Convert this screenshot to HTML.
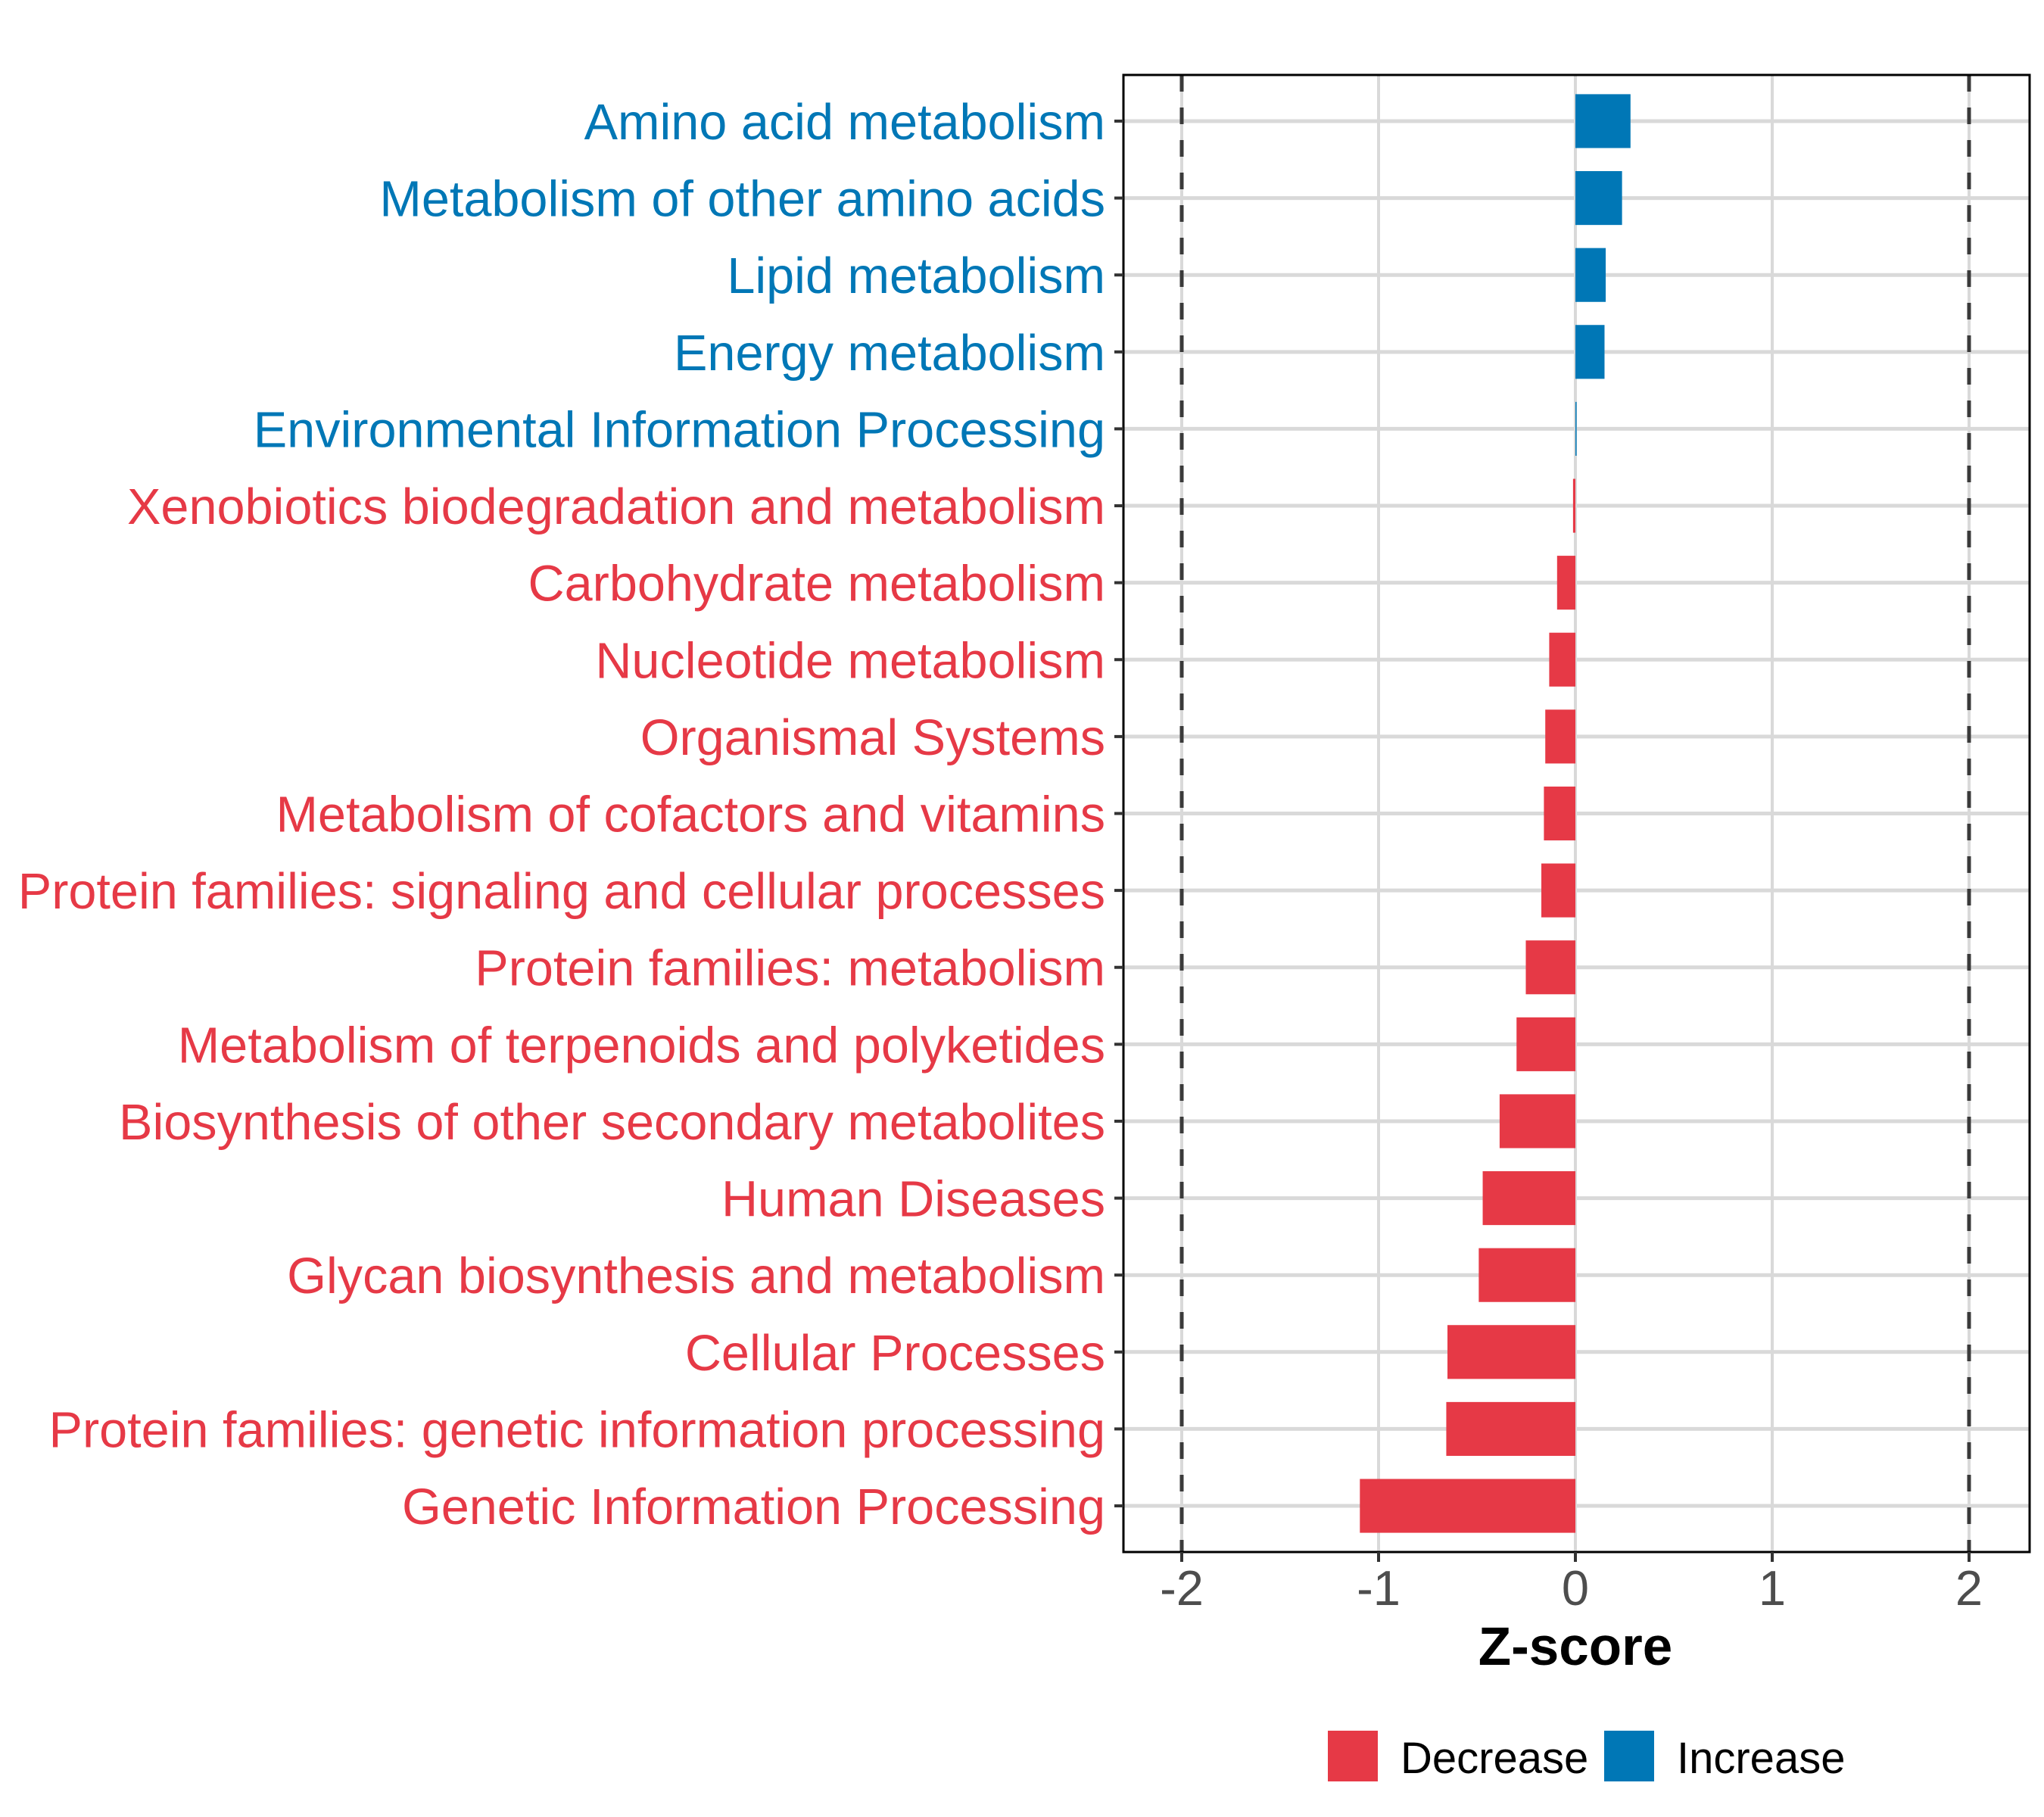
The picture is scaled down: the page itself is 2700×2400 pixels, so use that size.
<!DOCTYPE html>
<html><head><meta charset="utf-8"><style>
html,body{margin:0;padding:0;background:#fff;}
svg{display:block;font-family:"Liberation Sans",Arial,sans-serif;}
</style></head><body>
<svg id="chart" width="2700" height="2400" viewBox="0 0 2700 2400">
<rect x="0" y="0" width="2700" height="2400" fill="#fff"/>
<g id="grid"></g>
<g id="bars"></g>
<g id="ref"></g>
<rect x="1484" y="99" width="1197" height="1951" fill="none" stroke="#000" stroke-width="3"/>
<g id="yaxis"></g>
<g id="xaxis"></g>
<text x="2081" y="2199" text-anchor="middle" font-size="71" font-weight="bold" fill="#000">Z-score</text>
<g>
<rect x="1754" y="2286" width="66" height="67" fill="#E63946"/>
<text x="1850" y="2342" font-size="58" fill="#000">Decrease</text>
<rect x="2119" y="2286" width="66" height="67" fill="#0077B6"/>
<text x="2215" y="2342" font-size="58" fill="#000">Increase</text>
</g>
</svg>
<script>
const categories = ["Amino acid metabolism","Metabolism of other amino acids","Lipid metabolism","Energy metabolism","Environmental Information Processing","Xenobiotics biodegradation and metabolism","Carbohydrate metabolism","Nucleotide metabolism","Organismal Systems","Metabolism of cofactors and vitamins","Protein families: signaling and cellular processes","Protein families: metabolism","Metabolism of terpenoids and polyketides","Biosynthesis of other secondary metabolites","Human Diseases","Glycan biosynthesis and metabolism","Cellular Processes","Protein families: genetic information processing","Genetic Information Processing"];
const zscores = [0.28,0.237,0.154,0.148,0.006,-0.012,-0.093,-0.133,-0.153,-0.16,-0.173,-0.252,-0.299,-0.385,-0.471,-0.491,-0.65,-0.656,-1.095];
const xTicks = [-2,-1,0,1,2];
const xTickLabels = ["-2","-1","0","1","2"];
const thresholds = [-2,2];

const NS="http://www.w3.org/2000/svg";
const PL=1484, PR=2681, PT=99, PB=2050;
const X0=2081, XU=260;
const xs = v => X0 + v*XU;
const step = (PB-PT)/(categories.length - 1 + 1.2);
const ys = i => PT + 0.6*step + i*step;
function mk(tag, attrs, parent){const e=document.createElementNS(NS,tag);for(const k in attrs)e.setAttribute(k,attrs[k]);parent.appendChild(e);return e;}
const grid=document.getElementById('grid'), bars=document.getElementById('bars'), ref=document.getElementById('ref'), yaxis=document.getElementById('yaxis'), xaxis=document.getElementById('xaxis');

xTicks.forEach((t,i)=>{
  const g=mk('line',{x1:xs(t),x2:xs(t),y1:PT,y2:PB,stroke:'#d9d9d9','stroke-width':4},grid);
  
  
  const tk=mk('line',{x1:xs(t),x2:xs(t),y1:PB,y2:PB+13,stroke:'#333','stroke-width':4},xaxis);
  
  
  const tl=mk('text',{x:xs(t),y:2120,'text-anchor':'middle','font-size':65,fill:'#4d4d4d'},xaxis);
  tl.textContent=xTickLabels[i];
  
  
});
categories.forEach((c,i)=>{
  const y=ys(i);
  const g=mk('line',{x1:PL,x2:PR,y1:y,y2:y,stroke:'#d9d9d9','stroke-width':5},grid);
  
  
  const v=zscores[i];
  const col = v>=0 ? '#0077B6' : '#E63946';
  const h=step*0.7;
  const b=mk('rect',{x:Math.min(xs(0),xs(v)),y:y-h/2,width:Math.max(Math.abs(xs(v)-xs(0)),1.5),height:h,fill:col},bars);
  
  
  const tk=mk('line',{x1:PL-12,x2:PL,y1:y,y2:y,stroke:'#333','stroke-width':4},yaxis);
  
  
  const tl=mk('text',{x:1460,y:y+24,'text-anchor':'end','font-size':66.6,fill:col},yaxis);
  tl.textContent=c;
  
  
});
thresholds.forEach(t=>{
  const l=mk('line',{x1:xs(t),x2:xs(t),y1:PT,y2:PB,stroke:'#3a3a3a','stroke-width':5,'stroke-dasharray':'22 21'},ref);
  
  
});
</script>
</body></html>
